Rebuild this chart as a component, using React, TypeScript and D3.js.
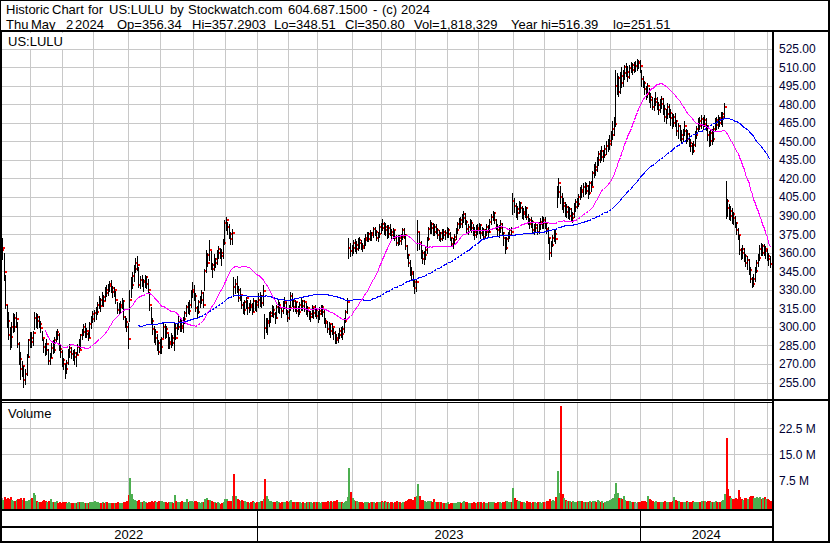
import React from "react";
import * as d3 from "d3";

// ---------- data ----------
const HOLIDAYS = [
  "2022-05-30", "2022-06-20", "2022-07-04", "2022-09-05", "2022-11-24", "2022-12-26",
  "2023-01-02", "2023-01-16", "2023-02-20", "2023-04-07", "2023-05-29", "2023-06-19",
  "2023-07-04", "2023-09-04", "2023-11-23", "2023-12-25",
  "2024-01-01", "2024-01-15", "2024-02-19", "2024-03-29",
];
const FIRST_DAY = "2022-05-03";
const LAST_DAY = "2024-05-02";

const closes = [
  362,364,344,318,305,293,292,300,307,300,306,286,274,266,268,257,262,276,289,291,
  288,295,307,305,308,302,299,291,284,281,286,272,275,283,281,289,296,293,282,280,273,
  270,266,271,280,283,278,276,279,277,284,281,293,296,300,294,297,291,302,306,310,
  311,312,318,322,317,324,321,330,327,333,335,331,328,330,322,314,316,318,321,308,304,300,290,
  322,334,341,347,352,350,334,338,336,337,340,335,330,318,305,298,291,296,287,280,284,
  290,300,298,295,286,288,291,287,299,291,300,304,301,299,306,311,316,313,318,328,330,
  325,315,312,320,322,327,318,345,358,352,362,350,347,355,352,360,363,360,357,368,384,
  386,381,375,371,376,332,335,330,323,326,318,314,320,323,315,318,316,312,321,320,318,
  322,325,319,329,299,303,305,309,311,314,310,307,316,318,315,313,319,321,312,307,
  315,325,321,316,320,313,312,318,321,317,320,313,315,308,310,316,311,314,309,
  310,313,316,312,305,303,298,302,297,300,295,291,289,293,297,294,298,305,312,320,364,361,364,
  368,363,366,370,368,365,364,370,372,375,371,376,374,379,377,372,375,381,380,
  383,378,381,375,380,377,374,378,372,368,372,369,373,378,374,365,358,352,344,343,336,331,
  336,377,368,360,355,358,362,371,379,383,380,377,381,378,374,376,371,377,374,376,378,
  375,372,367,370,373,378,383,386,383,388,391,385,379,381,384,380,377,374,380,378,
  382,376,378,373,377,381,377,385,389,392,386,381,378,380,383,376,372,364,371,374,378,377,402,
  398,392,395,400,396,391,393,396,389,386,383,385,378,380,382,377,383,385,386,384,
  384,379,372,360,366,372,375,371,409,416,405,398,400,393,397,390,395,388,391,397,401,399,
  405,411,409,413,410,414,408,416,413,424,429,427,435,440,437,442,439,444,446,448,450,
  455,460,464,495,501,490,503,497,505,510,506,502,509,512,508,511,511,514,513,511,
  500,497,492,488,495,486,483,478,482,484,479,475,480,484,476,470,472,478,473,469,465,
  470,466,458,462,455,452,458,462,452,456,449,446,442,447,455,460,466,462,468,464,
  467,462,455,450,457,452,460,467,463,469,465,470,472,478,402,396,390,394,391,388,
  384,378,374,362,360,363,357,352,354,346,339,335,339,345,352,356,363,360,365,361,363,357,
  355,350.8,
];

const highs = [
  368,372,360,342,318,312,300,304,311,310,312,304,288,280,272,268,266,278,290,296,
  296,297,312,311,310,309,305,297,290,287,290,282,279,287,289,292,297,298,295,285,281,
  275,270,273,282,286,284,281,282,280,286,290,294,298,302,303,299,296,304,309,313,
  314,316,320,325,323,328,326,332,334,335,337,338,333,332,329,320,319,321,323,322,309,307,303,
  330,340,344,350,356,357,348,341,342,339,342,341,339,328,316,307,301,298,294,289,290,
  292,303,302,301,294,292,295,293,303,302,302,309,306,307,308,313,318,320,322,330,336,
  334,327,317,322,325,330,328,347,362,360,370,361,352,359,356,362,365,364,363,371,386,
  389,385,383,377,379,340,339,341,333,331,325,320,322,324,322,319,322,319,323,322,322,
  327,328,326,334,310,307,307,312,313,318,317,312,318,322,320,316,321,324,320,314,
  318,328,327,322,322,320,317,320,323,322,322,319,317,314,313,318,315,318,315,
  313,316,318,318,314,307,305,304,302,303,299,297,294,295,299,300,301,307,314,323,372,368,366,
  370,371,369,372,373,370,368,372,375,377,377,378,377,381,381,378,377,383,384,
  387,385,384,382,382,383,379,380,378,374,374,374,375,380,380,375,366,359,354,348,345,338,
  339,386,377,369,362,361,365,373,381,386,385,384,383,383,380,378,377,379,379,378,381,
  380,377,372,372,375,380,385,388,389,391,394,392,386,383,387,386,383,381,382,383,
  384,383,381,380,379,383,382,387,391,394,393,387,383,382,386,384,377,373,373,377,380,381,408,
  404,400,398,402,401,398,396,398,397,391,388,389,386,383,385,383,385,388,390,389,
  389,385,381,372,369,374,378,378,414,420,414,408,404,401,399,398,397,396,393,400,403,404,
  407,413,415,416,417,416,415,418,418,426,432,433,437,442,443,446,443,447,450,452,455,
  458,466,470,508,505,503,506,510,508,512,513,511,512,514,513,514,515,516.39,516,516,
  508,503,499,495,497,493,489,486,485,490,486,482,484,487,485,479,476,481,480,476,473,
  472,473,467,465,463,459,460,466,460,459,457,452,449,450,458,462,469,470,471,470,
  471,469,463,458,460,460,462,469,470,471,470,474,474,481,418,403,399,398,396,393,
  390,385,380,374,364,366,364,359,357,355,348,340,343,348,354,359,366,368,367,367,365,363,
  360,357.29,
];

const lows = [
  352,355,338,315,300,290,282,284,296,297,300,284,270,258,260,251.51,254,261,276,284,
  284,285,298,300,299,300,296,289,280,277,278,270,270,276,279,280,288,290,281,276,268,
  266,259,263,270,276,275,273,270,268,278,280,283,290,293,292,292,289,292,299,304,
  305,306,310,315,313,318,317,322,325,326,329,328,324,325,319,311,311,312,315,306,300,297,283,
  305,324,331,337,344,346,332,331,333,329,332,331,328,314,302,294,288,286,281,278,279,
  279,292,291,292,283,283,284,285,281,290,294,298,297,297,296,303,309,311,310,316,324,
  322,313,308,311,316,319,316,330,344,349,354,347,340,346,348,351,356,356,350,356,367,
  378,375,372,367,367,325,327,328,321,322,315,311,310,315,310,312,314,310,313,314,313,
  316,317,316,318,291,296,294,301,304,309,308,303,307,312,311,308,311,315,310,305,
  306,314,317,313,313,311,309,310,314,314,313,310,309,306,305,308,307,309,307,
  304,306,310,309,303,300,296,294,292,294,290,287,287,288,291,292,290,296,304,311,356,357,358,
  360,361,360,362,364,363,361,364,366,369,369,370,370,373,374,370,369,373,376,
  378,375,374,372,373,374,371,372,370,366,366,367,367,371,372,363,356,349,342,339,333,327,
  329,362,363,356,352,351,355,360,370,376,376,374,374,376,372,370,369,370,372,371,373,
  373,370,365,364,367,371,376,380,381,381,385,383,377,375,378,377,374,371,373,375,
  376,372,374,371,372,374,373,377,383,386,384,379,374,373,377,374,366,360,363,369,372,374,391,
  393,389,387,392,393,388,387,389,387,383,380,381,376,375,377,375,376,379,380,380,
  380,376,368,355,357,365,369,368,397,405,400,395,393,390,389,388,387,386,385,389,394,396,
  398,403,405,406,407,408,404,407,410,415,421,423,426,431,433,435,434,437,440,442,444,
  447,452,455,462,488,487,489,494,495,500,503,499,501,506,504,506,507,508,509,506,
  495,494,488,484,486,482,478,476,475,479,476,472,474,477,472,466,465,469,470,463,461,
  462,462,455,453,451,449,450,455,449,450,446,442,440,441,446,453,458,460,461,460,
  462,459,451,446,447,448,450,458,460,461,462,464,462,470,388,390,387,386,384,383,
  381,375,371,359,355,356,353,349,347,343,336,332,333,337,344,349,354,358,358,358,356,354,
  350,348.51,
];

// volume in millions of shares
const volumes = [
  2.6,2.1,2.8,2.3,2.5,2.2,2.9,2.0,1.8,1.6,1.9,2.4,2.2,2.5,1.9,2.7,1.8,1.7,2.0,2.2,
  2.5,3.9,3.5,1.8,1.5,1.4,1.3,1.6,1.9,1.7,1.5,1.8,2.3,1.4,1.3,1.4,1.6,1.2,1.3,1.2,1.5,
  1.3,1.5,1.2,1.4,1.1,1.0,1.1,1.2,1.0,1.3,1.4,1.5,1.3,1.2,1.1,1.0,1.1,1.3,1.4,1.5,
  1.6,1.3,1.4,1.2,1.1,1.5,1.2,1.4,1.3,1.2,1.0,1.1,1.2,1.0,1.1,1.3,1.0,1.1,1.2,1.5,1.4,1.6,3.5,
  8.4,3.6,2.4,2.0,1.8,1.7,2.0,1.5,1.4,1.6,1.3,1.2,1.4,1.5,1.6,1.5,1.7,1.4,1.5,1.8,1.6,
  1.6,1.5,1.3,1.2,1.5,1.3,1.4,1.2,3.5,1.6,1.5,1.4,1.3,1.6,1.5,1.4,2.3,1.5,1.7,1.8,1.5,
  1.6,1.8,1.5,1.3,1.2,1.4,1.5,2.4,2.6,1.9,2.1,1.7,1.5,1.4,1.2,1.3,1.1,0.8,1.2,1.5,2.2,
  2.3,1.8,1.7,1.6,3.1,9.3,3.2,2.2,1.9,1.7,2.1,1.8,1.6,1.5,1.4,1.1,1.3,1.6,1.3,1.2,1.4,
  1.5,1.6,1.7,2.3,8.0,3.1,2.2,1.8,1.6,1.5,1.3,1.4,1.6,1.3,1.2,1.4,1.5,1.3,1.6,1.4,
  1.7,2.0,1.5,1.4,1.3,1.5,1.4,1.3,1.2,1.3,1.2,1.4,1.3,1.5,1.4,1.2,1.3,1.5,1.4,
  1.3,1.2,1.4,1.3,1.5,1.4,1.6,1.5,1.7,1.4,1.6,1.8,2.0,1.5,1.4,1.3,1.2,1.4,1.8,2.9,11.0,4.2,2.6,
  2.0,1.8,1.6,1.5,1.4,1.3,1.2,1.4,1.5,1.3,1.2,1.4,1.3,1.5,1.2,1.4,1.3,1.5,1.6,
  1.4,1.6,1.3,1.5,1.2,1.3,1.4,1.2,1.5,1.6,1.3,1.4,1.2,1.5,1.4,1.8,2.0,2.4,2.2,1.9,2.1,2.8,
  3.0,6.6,3.0,2.1,1.9,1.6,1.5,1.7,1.8,1.6,1.5,2.4,1.4,1.3,1.5,1.4,1.3,1.2,1.1,1.2,1.4,
  0.8,1.1,1.2,1.0,1.1,1.2,1.3,1.4,1.2,1.5,1.6,1.3,1.4,1.2,1.1,1.2,1.3,1.2,1.1,1.3,
  1.3,1.4,1.2,1.3,1.1,1.2,1.3,1.4,1.5,1.3,1.2,1.1,1.3,1.4,1.2,1.3,1.5,1.8,1.6,1.4,1.3,1.5,5.4,
  2.6,1.9,1.7,1.6,1.4,1.5,1.3,1.2,1.6,1.4,1.3,1.2,1.5,1.3,1.2,1.4,1.3,1.2,1.4,1.5,
  1.5,1.6,1.8,2.2,1.7,1.9,1.6,2.9,10.2,4.0,28.7,3.6,2.5,2.0,1.8,1.7,1.6,1.5,1.7,1.4,1.5,1.6,
  1.8,1.7,1.6,1.5,1.4,1.3,1.5,1.6,1.4,1.7,1.8,1.5,1.9,1.7,1.4,1.6,1.0,1.4,1.6,1.8,2.0,
  2.2,2.5,3.7,6.9,4.0,2.6,2.5,2.3,3.2,1.9,1.7,1.8,1.6,1.5,1.4,1.3,1.2,1.5,1.3,1.4,
  1.8,1.7,1.6,1.5,3.2,2.3,1.9,1.7,1.5,1.6,1.4,1.3,1.5,1.4,1.3,1.6,1.5,1.4,1.3,1.5,1.8,
  2.8,1.9,1.7,1.6,1.5,1.4,1.3,1.5,1.6,1.4,1.5,1.3,1.6,1.5,1.4,1.3,1.5,1.4,1.6,1.8,
  1.6,1.5,1.7,1.6,1.4,1.5,1.3,1.6,1.4,1.5,1.3,1.6,2.0,3.8,19.6,5.1,3.2,2.6,2.4,2.2,
  2.7,2.3,4.7,2.8,2.4,2.1,2.5,2.6,2.3,2.8,3.0,3.2,2.7,2.5,2.8,2.6,2.9,2.4,2.7,2.8,2.2,2.3,
  2.0,1.818,
];

const priceTicks = [255, 270, 285, 300, 315, 330, 345, 360, 375, 390, 405, 420, 435, 450, 465, 480, 495, 510, 525];
const volumeTicks = [7.5, 15, 22.5];
const MA_SHORT = 30;
const MA_LONG = 90;

const headerLine1 = [
  { t: "Historic", x: 6 },
  { t: "Chart", x: 52 },
  { t: "for", x: 88 },
  { t: "US:LULU", x: 109 },
  { t: "by", x: 170 },
  { t: "Stockwatch.com", x: 188 },
  { t: "604.687.1500", x: 288 },
  { t: "-", x: 373 },
  { t: "(c)", x: 382 },
  { t: "2024", x: 401 },
];
const headerLine2 = [
  { t: "Thu", x: 6 },
  { t: "May", x: 31 },
  { t: "2", x: 66 },
  { t: "2024", x: 75 },
  { t: "Op=356.34", x: 117 },
  { t: "Hi=357.2903", x: 192 },
  { t: "Lo=348.51", x: 274 },
  { t: "Cl=350.80", x: 345 },
  { t: "Vol=1,818,329", x: 414 },
  { t: "Year hi=516.39", x: 511 },
  { t: "lo=251.51", x: 613 },
];

// ---------- helpers ----------
function buildDates(): Date[] {
  const hol = new Set(HOLIDAYS);
  const out: Date[] = [];
  const d = new Date(FIRST_DAY + "T00:00:00Z");
  const end = new Date(LAST_DAY + "T00:00:00Z").getTime();
  while (d.getTime() <= end) {
    const wd = d.getUTCDay();
    const iso = d.toISOString().slice(0, 10);
    if (wd !== 0 && wd !== 6 && !hol.has(iso)) out.push(new Date(d.getTime()));
    d.setUTCDate(d.getUTCDate() + 1);
  }
  return out;
}

function sma(arr: number[], n: number): (number | null)[] {
  return arr.map((_, i) => (i < n - 1 ? null : (d3.mean(arr.slice(i - n + 1, i + 1)) as number)));
}

// ---------- layout ----------
const W = 830;
const H = 543;
const PL = 2;
const PR = 772;
const PT = 32;
const PB = 399;
const VT = 403;
const VB = 509;
const FONT = "'Liberation Sans', Arial, Helvetica, sans-serif";
const GRID = "#c8c8c8";
const AXIS_TXT = "#000033";

export default function App() {
  const dates = buildDates();
  const n = Math.min(dates.length, closes.length, highs.length, lows.length, volumes.length);

  const x = d3.scaleLinear().domain([0, n - 1]).range([0.5, 770]);
  const y = d3.scaleLinear().domain([255, 525]).range([382.5, 48.5]);
  const yv = d3.scaleLinear().domain([0, 22.5]).range([507, 428]);

  const maS = sma(closes.slice(0, n), MA_SHORT);
  const maL = sma(closes.slice(0, n), MA_LONG);
  const mkLine = d3
    .line<number | null>()
    .defined((d) => d != null)
    .x((_, i) => Math.round(x(i)) + 0.5)
    .y((d) => Math.round(y(d as number)) + 0.5);

  const monthIdx: number[] = [];
  const yearIdx: number[] = [];
  for (let i = 1; i < n; i++) {
    if (dates[i].getUTCMonth() !== dates[i - 1].getUTCMonth()) monthIdx.push(i);
    if (dates[i].getUTCFullYear() !== dates[i - 1].getUTCFullYear()) yearIdx.push(i);
  }
  const gx = (i: number) => Math.round(x(i) - 1) + 0.5;
  const yearBounds = [0, ...yearIdx.map(gx), PR];
  const years = [dates[0].getUTCFullYear()];
  yearIdx.forEach((i) => years.push(dates[i].getUTCFullYear()));

  return (
    <svg
      width={W}
      height={H}
      style={{ position: "absolute", left: 0, top: 0, display: "block" }}
      fontFamily={FONT}
    >
      <rect x={0} y={0} width={W} height={H} fill="#fff" />

      {/* header */}
      {headerLine1.map((h) => (
        <text key={"h1" + h.t} x={h.x} y={14} fontSize={13} fill="#000">
          {h.t}
        </text>
      ))}
      {headerLine2.map((h, k) => (
        <text key={"h2" + k} x={h.x} y={29} fontSize={13} fill="#000">
          {h.t}
        </text>
      ))}

      {/* grid: price panel */}
      {priceTicks.map((t) => (
        <line key={"hp" + t} x1={PL} x2={PR} y1={Math.round(y(t)) + 0.5} y2={Math.round(y(t)) + 0.5} stroke={GRID} />
      ))}
      {monthIdx.map((i) => (
        <g key={"m" + i}>
          <line x1={gx(i)} x2={gx(i)} y1={PT} y2={PB} stroke={GRID} />
          <line x1={gx(i)} x2={gx(i)} y1={VT} y2={VB} stroke={GRID} />
        </g>
      ))}
      {volumeTicks.map((t) => (
        <line key={"hv" + t} x1={PL} x2={PR} y1={Math.round(yv(t)) + 0.5} y2={Math.round(yv(t)) + 0.5} stroke={GRID} />
      ))}

      {/* symbol label */}
      <rect x={3} y={33} width={62} height={16} fill="#fff" />
      <text x={8} y={46} fontSize={13} fill="#000">
        US:LULU
      </text>
      <text x={8} y={418} fontSize={13} fill="#000">
        Volume
      </text>

      {/* price bars: black high-low bar, then red close mark, drawn day by day */}
      <g shapeRendering="crispEdges">
        {d3.range(n).map((i) => {
          const xi = Math.round(x(i));
          const yh = Math.round(y(highs[i]));
          const yl = Math.round(y(lows[i]));
          const yc = Math.round(y(closes[i]));
          return (
            <g key={"b" + i}>
              <rect x={xi} y={yh} width={1} height={Math.max(1, yl - yh + 1)} fill="#000" />
              <rect x={xi + 1} y={yc - 1} width={2} height={2} fill="#ff0000" />
            </g>
          );
        })}
      </g>

      {/* moving averages */}
      <path d={mkLine(maL) || ""} fill="none" stroke="#0000ff" strokeWidth={1} shapeRendering="crispEdges" />
      <path d={mkLine(maS) || ""} fill="none" stroke="#ff00ff" strokeWidth={1} shapeRendering="crispEdges" />

      {/* volume bars */}
      <g shapeRendering="crispEdges">
        {d3.range(n).map((i) => {
          const prev = i > 0 ? closes[i - 1] : closes[i];
          const col = closes[i] > prev ? "#4caf50" : closes[i] < prev ? "#ff0000" : "#a0a0a0";
          const yt = Math.round(yv(volumes[i]));
          return <rect key={"v" + i} x={Math.round(x(i))} y={yt} width={2} height={VB - yt} fill={col} />;
        })}
      </g>

      {/* axis labels */}
      {priceTicks.map((t) => (
        <text key={"pl" + t} x={779} y={y(t) + 4.5} fontSize={12} fill={AXIS_TXT}>
          {t.toFixed(2)}
        </text>
      ))}
      {volumeTicks.map((t) => (
        <text key={"vl" + t} x={779} y={yv(t) + 4.5} fontSize={12} fill={AXIS_TXT}>
          {t.toFixed(1) + " M"}
        </text>
      ))}

      {/* frame lines */}
      <g shapeRendering="crispEdges" fill="#000">
        <rect x={0} y={0} width={W} height={1} />
        <rect x={W - 2} y={0} width={2} height={H} />
        <rect x={0} y={0} width={1} height={31} />
        <rect x={0} y={30} width={W} height={2} />
        <rect x={0} y={31} width={2} height={H - 31} />
        <rect x={PR} y={31} width={2} height={H - 31} />
        <rect x={0} y={399} width={W} height={2} />
        <rect x={0} y={402} width={PR} height={1} />
        <rect x={0} y={VB} width={PR} height={2} />
        <rect x={0} y={526} width={PR} height={2} />
        <rect x={0} y={H - 2} width={W} height={2} />
        {yearIdx.map((i) => (
          <rect key={"yd" + i} x={Math.round(gx(i) - 0.5)} y={VB} width={1} height={H - VB} />
        ))}
      </g>

      {/* year labels */}
      {years.map((yr, k) => (
        <text
          key={"y" + yr}
          x={(yearBounds[k] + yearBounds[k + 1]) / 2}
          y={539}
          fontSize={13}
          textAnchor="middle"
          fill="#000"
        >
          {String(yr)}
        </text>
      ))}
    </svg>
  );
}
